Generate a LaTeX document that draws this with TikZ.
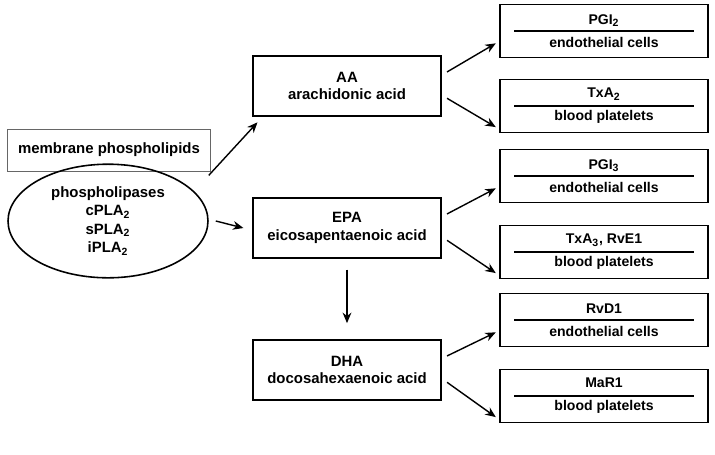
\documentclass[tikz,border=0pt]{standalone}
\usepackage{fontspec}
\setmainfont{Liberation Sans}
\usetikzlibrary{positioning, arrows.meta, shapes.geometric}

\begin{document}
\begin{tikzpicture}[
    x=0.02cm, y=-0.02cm,
    % Acid box style
    acid/.style={
        rectangle,
        draw=black,
        line width=1.2pt,
        minimum width=3.75cm,
        minimum height=1.2cm,
        align=center,
        font=\fontsize{8.5}{10}\selectfont\bfseries
    },
    % Product box style
    prod/.style={
        rectangle,
        draw=black,
        line width=1.1pt,
        minimum width=4.15cm,
        minimum height=1.06cm,
        align=center,
        font=\fontsize{8}{13}\selectfont\bfseries
    },
    % Arrow style
    arrow/.style={
        -{Stealth[length=6pt,width=5pt]},
        line width=0.8pt
    },
    % Divider style
    rulel/.style={line width=0.8pt}
]
\useasboundingbox (0,0) rectangle (715,454);

% === Source ===
\node[rectangle, draw=black!60, line width=0.5pt, minimum width=4.05cm,
      minimum height=0.84cm, font=\fontsize{8.5}{10}\selectfont\bfseries]
      (mem) at (109,150) {membrane phospholipids};
\node[ellipse, draw=black, line width=0.9pt, minimum width=4cm,
      minimum height=2.1cm, align=center,
      font=\fontsize{8.5}{10.5}\selectfont\bfseries]
      (pla) at (108,221) {phospholipases\\cPLA\textsubscript{2}\\sPLA\textsubscript{2}\\iPLA\textsubscript{2}};

% === Fatty acids ===
\node[acid] (aa) at (347,86) {AA\\arachidonic acid};
\node[acid] (epa) at (347,228) {EPA\\eicosapentaenoic acid};
\node[acid] (dha) at (347,370) {DHA\\docosahexaenoic acid};

% === Products ===
\node[prod] (pgi2) at (604,31) {PGI\textsubscript{2}\\endothelial cells};
\node[prod] (txa2) at (604,106) {TxA\textsubscript{2}\\blood platelets};
\node[prod] (pgi3) at (604,176) {PGI\textsubscript{3}\\endothelial cells};
\node[prod] (txa3) at (604,252) {TxA\textsubscript{3}, RvE1\\blood platelets};
\node[prod] (rvd1) at (604,320) {RvD1\\endothelial cells};
\node[prod] (mar1) at (604,396) {MaR1\\blood platelets};

% dividers
\foreach \n in {pgi2, txa2, pgi3, txa3, rvd1, mar1}
    \draw[rulel] ([xshift=0.3cm]\n.west) -- ([xshift=-0.3cm]\n.east);

% === Arrows ===
\draw[arrow] ([yshift=26pt]pla.east) -- ([xshift=3pt,yshift=-3pt]aa.south west);
\draw[arrow] ([xshift=4pt]pla.east) -- ([xshift=-5pt]epa.west);
\draw[arrow] ([yshift=-6pt]epa.south) -- ([yshift=9pt]dha.north);
\foreach \a/\t/\b in {aa/pgi2/txa2, epa/pgi3/txa3, dha/rvd1/mar1} {
    \draw[arrow] ([xshift=3pt,yshift=8pt]\a.east) -- ([xshift=-2pt,yshift=-7pt]\t.west);
    \draw[arrow] ([xshift=3pt,yshift=-7pt]\a.east) -- ([xshift=-2pt,yshift=-12pt]\b.west);
}

\end{tikzpicture}
\end{document}
